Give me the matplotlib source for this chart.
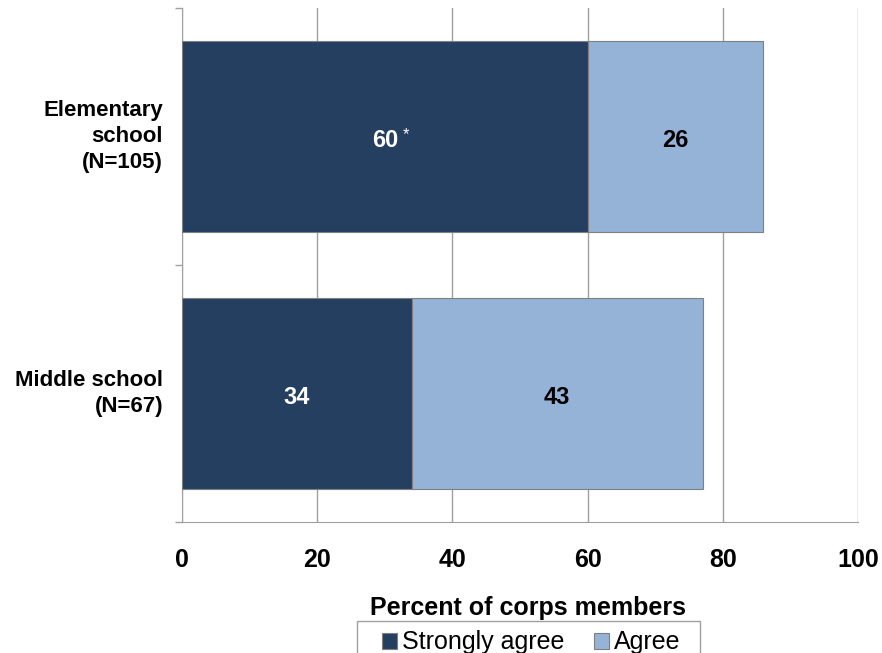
import matplotlib.pyplot as plt
from matplotlib.patches import Rectangle
import numpy as np

plt.rcParams['font.family'] = ['Liberation Sans', 'DejaVu Sans']

# Data
groups = ['Elementary\nschool\n(N=105)', 'Middle school\n(N=67)']
strongly_agree = [60, 34]
agree = [26, 43]
sig_flags = [True, False]

dark = '#243F60'
light = '#95B3D7'

fig = plt.figure(figsize=(8.82, 6.53), dpi=100)
ax = fig.add_axes([182 / 882, 1 - 522 / 653, 676 / 882, 514 / 653])

ypos = np.array([1.5, 0.5])
h = 0.745
ax.barh(ypos, strongly_agree, height=h, color=dark, edgecolor='#7F7F7F', linewidth=0.8,
        label='Strongly agree', zorder=3)
ax.barh(ypos, agree, left=strongly_agree, height=h, color=light, edgecolor='#7F7F7F',
        linewidth=0.8, label='Agree', zorder=3)

# value labels
for y, sa, a, sig in zip(ypos, strongly_agree, agree, sig_flags):
    ax.annotate(str(sa), xy=(sa / 2, y), xytext=(0, -3), textcoords='offset points',
                color='white', fontsize=17, fontweight='bold',
                ha='center', va='center', zorder=4)
    if sig:
        ax.annotate('*', xy=(sa / 2, y), xytext=(15.5, 1), textcoords='offset points',
                    color='white', fontsize=12, ha='center', va='center', zorder=4)
    ax.annotate(str(a), xy=(sa + a / 2, y), xytext=(0, -3), textcoords='offset points',
                color='black', fontsize=17, fontweight='bold',
                ha='center', va='center', zorder=4)

# category labels
for y, g in zip(ypos, groups):
    ax.text(-2.8, y, g, ha='right', va='center', fontsize=16, fontweight='bold',
            linespacing=1.3)

ax.set_xlim(0, 100)
ax.set_ylim(0, 2)
ax.set_xticks(np.arange(0, 101, 20))
ax.tick_params(axis='x', length=0, labelsize=18, pad=19)
for lab in ax.get_xticklabels():
    lab.set_fontweight('bold')
ax.set_yticks([0, 1, 2])
ax.set_yticklabels([])
ax.tick_params(axis='y', length=5, color='#A0A0A0', width=1)

ax.grid(axis='x', color='#A0A0A0', linewidth=1, zorder=0)
for side in ['top', 'right']:
    ax.spines[side].set_visible(False)
ax.spines['left'].set_color('#A0A0A0')
ax.spines['bottom'].set_color('#A0A0A0')

ax.set_xlabel('Percent of corps members', fontsize=18, fontweight='bold', labelpad=17)
ax.xaxis.label.set_x((528 - 182) / 676)

leg = fig.legend(loc='upper center', bbox_to_anchor=(531 / 882, 1 - 623 / 653), ncol=2,
                 fontsize=18, frameon=False,
                 handlelength=0.6, handleheight=0.6, handletextpad=0.2, columnspacing=1.2,
                 borderpad=0.3, borderaxespad=0)

# legend box (runs off the bottom edge like the original)
fig.patches.append(Rectangle((357 / 882, -0.02), 343 / 882, 0.02 + 32 / 653,
                             transform=fig.transFigure, fill=False,
                             edgecolor='#A0A0A0', linewidth=1))

fig.savefig('out.png', dpi=100)
